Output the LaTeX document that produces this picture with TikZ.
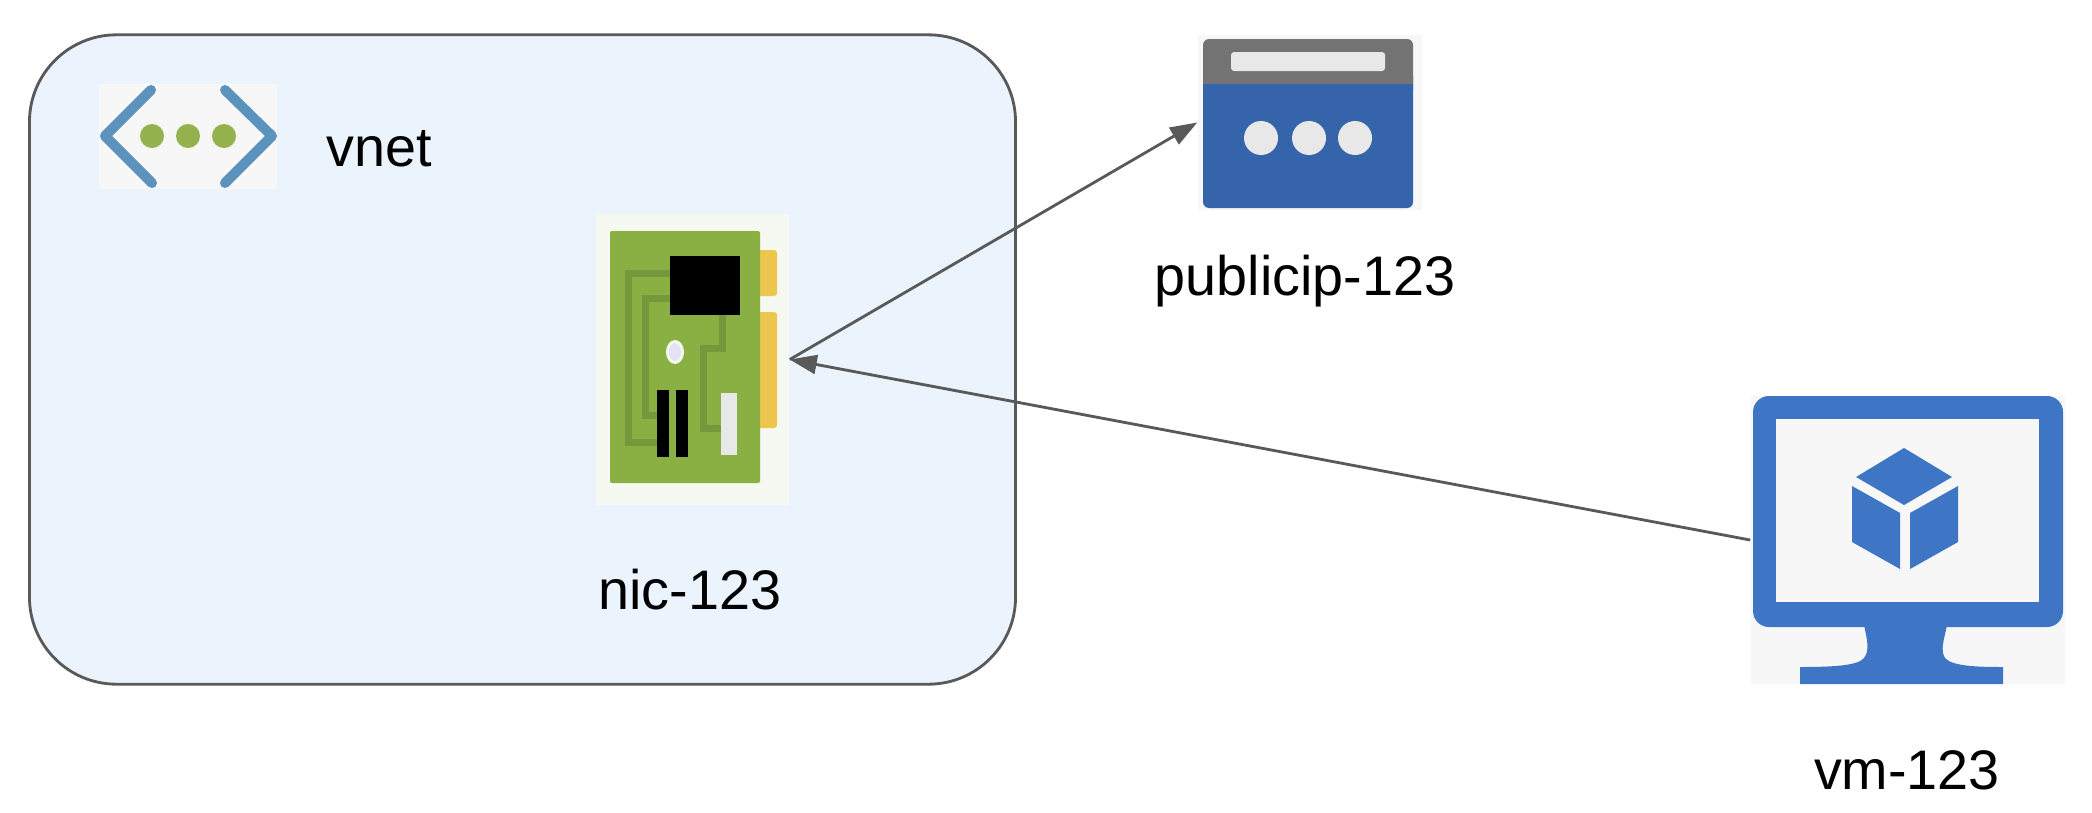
\documentclass[tikz,border=0pt]{standalone}
\usepackage{fontspec}
\setmainfont{Liberation Sans}
\usetikzlibrary{arrows.meta}

\definecolor{lineGray}{HTML}{595959}
\definecolor{vnetFill}{HTML}{EBF3FC}
\definecolor{iconBack}{HTML}{F7F7F7}
\definecolor{nicBack}{HTML}{F6F8F2}
\definecolor{chevBlue}{HTML}{5B93BD}
\definecolor{dotGreen}{HTML}{93B14D}
\definecolor{nicGreen}{HTML}{8AB044}
\definecolor{nicTrace}{HTML}{76983D}
\definecolor{nicGold}{HTML}{EDC64F}
\definecolor{nicHole}{HTML}{E4E4F0}
\definecolor{ipBlue}{HTML}{3564AB}
\definecolor{ipGray}{HTML}{737373}
\definecolor{ipLight}{HTML}{E8E8E8}
\definecolor{vmBlue}{HTML}{3E75C4}

\begin{document}
\begin{tikzpicture}[x=0.01cm,y=-0.01cm,>={Triangle[length=0.27cm,width=0.19cm]},
    every node/.style={font=\fontsize{15.85pt}{18pt}\selectfont,inner sep=0pt},
    iconback/.style={fill=iconBack,draw=none}]
    \useasboundingbox (0,0) rectangle (2092,812);

    \node[draw=lineGray,fill=vnetFill,line width=0.8pt,rounded corners=0.87cm,
        minimum width=9.855cm,minimum height=6.49cm] (vnetbox) at (522.5,359.5) {};

    % vnet icon
    \node[iconback,minimum width=1.78cm,minimum height=1.05cm] (vneticon) at (188,136.5) {};
    \draw[chevBlue,line width=0.1cm,line cap=round,line join=round] (151,90) -- (105,136) -- (152,183);
    \draw[chevBlue,line width=0.1cm,line cap=round,line join=round] (225,90) -- (272,136) -- (225,183);
    \foreach \xdot in {152,188,224}
        \fill[dotGreen] (\xdot,136) circle (12);
    \node (vnetlabel) at (379,149) {vnet};

    % nic icon
    \node[fill=nicBack,draw=none,minimum width=1.93cm,minimum height=2.91cm] (nic) at (692.5,359.5) {};
    \fill[nicGold,rounded corners=0.03cm] (755,250) rectangle (777,296);
    \fill[nicGold,rounded corners=0.03cm] (755,312) rectangle (777,428);
    \fill[nicGreen,rounded corners=0.02cm] (610,231) rectangle (760,483);
    \draw[nicTrace,line width=0.07cm] (670,273) -- (628,273) -- (628,442) -- (657,442);
    \draw[nicTrace,line width=0.07cm] (670,298) -- (645,298) -- (645,415) -- (657,415);
    \draw[nicTrace,line width=0.07cm] (722,315) -- (722,348) -- (703,348) -- (703,428) -- (721,428);
    \fill[black] (670,256) rectangle (740,315);
    \fill[black] (657,390) rectangle (669,457);
    \fill[black] (676,390) rectangle (688,457);
    \fill[ipLight] (721,393) rectangle (737,455);
    \fill[nicBack] (675,352) ellipse (9 and 12);
    \fill[nicHole] (675,352) ellipse (6 and 9);
    \node (niclabel) at (690,590) {nic-123};

    % public ip icon
    \node[iconback,minimum width=2.24cm,minimum height=1.75cm] (publicip) at (1310,122.5) {};
    \fill[ipBlue,rounded corners=0.06cm] (1203,70) rectangle (1413,208);
    \fill[ipGray,rounded corners=0.06cm] (1203,39) rectangle (1413,95);
    \fill[ipBlue] (1203,84) rectangle (1413,110);
    \fill[ipLight,rounded corners=0.03cm] (1231,52) rectangle (1385,71);
    \foreach \xdot in {1261,1309,1355}
        \fill[ipLight] (\xdot,138) circle (17);
    \node (publiciplabel) at (1305,281) {publicip-123};

    % vm icon
    \node[iconback,minimum width=3.14cm,minimum height=2.88cm] (vm) at (1908,540) {};
    \fill[vmBlue,rounded corners=0.16cm] (1753,396) rectangle (2063,627);
    \fill[iconBack] (1776,419) rectangle (2039,602);
    \fill[vmBlue] (1864,625) .. controls (1867,640) and (1870,650) .. (1864,658)
        .. controls (1858,666) and (1830,667) .. (1800,667) -- (1800,684)
        -- (2003,684) -- (2003,667) .. controls (1975,667) and (1952,666) .. (1945,658)
        .. controls (1940,650) and (1944,640) .. (1947,625) -- cycle;
    \fill[vmBlue] (1904,448) -- (1952,477) -- (1904,505) -- (1856,477) -- cycle;
    \fill[vmBlue] (1852,486) -- (1900,513) -- (1900,569) -- (1852,542) -- cycle;
    \fill[vmBlue] (1958,486) -- (1910,513) -- (1910,569) -- (1958,542) -- cycle;
    \node (vmlabel) at (1907,770) {vm-123};

    \draw[->,lineGray,line width=0.8pt] (nic.east) -- (publicip.west);
    \draw[->,lineGray,line width=0.8pt] (vm.west) -- (nic.east);
\end{tikzpicture}
\end{document}
